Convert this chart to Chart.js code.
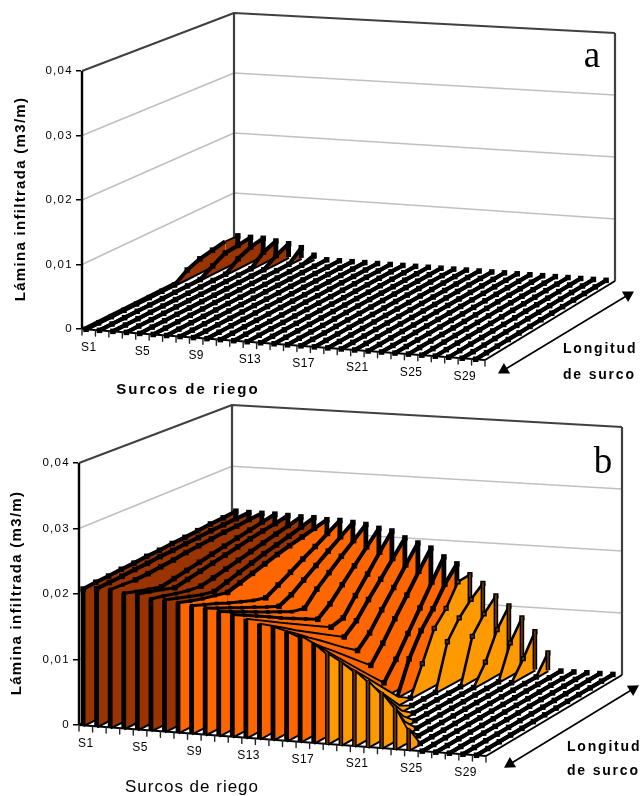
<!DOCTYPE html>
<html lang="es">
<head>
<meta charset="utf-8">
<title>Lámina infiltrada por surco</title>
<script src="https://cdn.jsdelivr.net/npm/chart.js@4/dist/chart.umd.min.js"></script>
<style>
  html, body { margin: 0; padding: 0; background: #fff; }
  .panel { position: relative; width: 644px; height: 398px; }
  canvas { display: block; }
</style>
</head>
<body>
<div class="panel"><canvas id="panelA"></canvas></div>
<div class="panel"><canvas id="panelB"></canvas></div>
<script>
// ========================================
// Datos
// ========================================

const surcos = ['S1','S2','S3','S4','S5','S6','S7','S8','S9','S10','S11','S12','S13','S14','S15',
                'S16','S17','S18','S19','S20','S21','S22','S23','S24','S25','S26','S27','S28','S29','S30'];
const estaciones = ['L1','L2','L3','L4','L5','L6','L7','L8','L9','L10','L11','L12','L13'];
const ticksLamina = [0, 0.01, 0.02, 0.03, 0.04];

const seco = [0,0,0,0,0,0,0,0,0,0,0,0,0];

// Panel a: solo los primeros surcos mojan, al fondo
const laminaA = [
  [0,0,0,0,0,0,0,0,.0014,.0022,.0026,.0030,.0029],
  [0,0,0,0,0,0,0,0,0,.0012,.0023,.0025,.0028],
  [0,0,0,0,0,0,0,0,0,0,.0015,.0024,.0028],
  [0,0,0,0,0,0,0,0,0,0,0,.0017,.0025],
  [0,0,0,0,0,0,0,0,0,0,0,.0013,.0022],
  [0,0,0,0,0,0,0,0,0,0,0,0,.0017],
  [0,0,0,0,0,0,0,0,0,0,0,0,.0006],
  seco, seco, seco, seco, seco, seco, seco, seco, seco, seco, seco, seco,
  seco, seco, seco, seco, seco, seco, seco, seco, seco, seco, seco
];

// Panel b
const laminaB = [
  [.0208,.0210,.0211,.0213,.0214,.0216,.0217,.0219,.0220,.0222,.0224,.0225,.0227],
  [.0210,.0211,.0212,.0214,.0215,.0217,.0218,.0220,.0221,.0223,.0224,.0225,.0226],
  [.0210,.0209,.0208,.0209,.0211,.0213,.0216,.0218,.0220,.0222,.0223,.0225,.0226],
  [.0206,.0200,.0195,.0190,.0194,.0198,.0202,.0206,.0210,.0214,.0218,.0222,.0226],
  [.0206,.0201,.0196,.0190,.0194,.0198,.0202,.0206,.0210,.0214,.0218,.0221,.0225],
  [.0200,.0196,.0191,.0187,.0185,.0189,.0194,.0199,.0204,.0209,.0214,.0219,.0224],
  [.0200,.0194,.0188,.0182,.0178,.0184,.0190,.0196,.0202,.0207,.0212,.0218,.0224],
  [.0197,.0191,.0186,.0182,.0178,.0184,.0190,.0196,.0202,.0207,.0212,.0217,.0222],
  [.0194,.0187,.0180,.0172,.0165,.0158,.0153,.0164,.0175,.0187,.0198,.0210,.0222],
  [.0192,.0183,.0175,.0166,.0158,.0149,.0141,.0150,.0164,.0178,.0192,.0206,.0220],
  [.0188,.0179,.0170,.0161,.0152,.0143,.0134,.0130,.0151,.0168,.0185,.0201,.0218],
  [.0185,.0175,.0165,.0155,.0144,.0134,.0124,.0114,.0129,.0150,.0171,.0192,.0213],
  [.0180,.0169,.0158,.0147,.0136,.0125,.0114,.0103,.0108,.0134,.0159,.0185,.0210],
  [.0174,.0162,.0150,.0137,.0125,.0113,.0101,.0089,.0105,.0129,.0152,.0176,.0200],
  [.0171,.0156,.0142,.0127,.0113,.0098,.0083,.0069,.0087,.0114,.0140,.0167,.0193],
  [.0165,.0148,.0131,.0114,.0098,.0081,.0064,.0047,.0072,.0101,.0129,.0158,.0186],
  [.0161,.0141,.0121,.0101,.0081,.0061,.0041,.0021,.0048,.0079,.0110,.0142,.0173],
  [.0150,.0126,.0102,.0078,.0054,.0030,.0006,0,.0050,.0085,.0110,.0140,.0163],
  [.0137,.0116,.0095,.0075,.0054,.0033,.0012,0,.0044,.0090,.0112,.0145,.0147],
  [.0125,.0102,.0079,.0056,.0033,.0010,0,0,0,.0070,.0098,.0118,.0134],
  [.0114,.0089,.0064,.0039,.0014,0,0,0,0,0,.0070,.0096,.0115],
  [.0100,.0072,.0044,.0017,0,0,0,0,0,0,.0030,.0072,.0100],
  [.0084,.0052,.0020,0,0,0,0,0,0,0,0,.0052,.0082],
  [.0063,.0022,0,0,0,0,0,0,0,0,0,.0028,.0061],
  [.0032,0,0,0,0,0,0,0,0,0,0,0,.0028],
  seco, seco, seco, seco, seco
];

// ========================================
// Colores
// ========================================

const MARRON = '#993300';
const NARANJA = '#FF6600';
const AMBAR = '#FF9900';
const CANTO = '#663300';

function colorPanelA() { return MARRON; }

// En b el color depende del maximo del surco
function colorPanelB(pico) {
  if (pico >= 0.0223) return MARRON;
  if (pico >= 0.0155) return NARANJA;
  return AMBAR;
}

// ========================================
// Perspectiva de cada panel (px del canvas)
// ========================================

const vistaA = {
  A: [82, 329], B: [485, 360], C: [615, 281], D: [234, 253],
  hA: 258, hB: 266, hC: 248, hD: 240,
  izq: 81, padAbajo: 0, tituloPad: 12
};
const vistaB = {
  A: [79, 327], B: [486, 358], C: [622, 277], D: [232, 252],
  hA: 262, hB: 268, hC: 248, hD: 245,
  izq: 78, padAbajo: 8, tituloPad: 8
};

const zMax = ticksLamina[ticksLamina.length - 1];

function bilineal(a, b, c, d, u, t) {
  return (1 - u) * (1 - t) * a + u * (1 - t) * b + u * t * c + (1 - u) * t * d;
}

// (u, t, valor) -> punto en las unidades de las escalas
function proyectar(vista, u, t, valor) {
  const x = bilineal(vista.A[0], vista.B[0], vista.C[0], vista.D[0], u, t);
  const y = bilineal(vista.A[1], vista.B[1], vista.C[1], vista.D[1], u, t);
  const h = bilineal(vista.hA, vista.hB, vista.hC, vista.hD, u, t);
  return { x: x, y: aEscala(vista, y - valor / zMax * h) };
}

function aEscala(vista, py) {
  return (vista.A[1] - py) / vista.hA * zMax;
}

// ========================================
// Construccion de los datasets
// ========================================

function construirDatasets(vista, filas, colorDe) {
  const lista = [];

  function linea(data, color, ancho, extra) {
    lista.push(Object.assign({
      data: data, showLine: true, borderColor: color, borderWidth: ancho,
      pointRadius: 0, fill: false, clip: false, borderJoinStyle: 'round'
    }, extra || {}));
  }

  // Paredes y rejilla
  ticksLamina.slice(1, -1).forEach(v => {
    linea([proyectar(vista, 0, 0, v), proyectar(vista, 0, 1, v), proyectar(vista, 1, 1, v)], '#C0C0C0', 1.7);
  });
  linea([proyectar(vista, 0, 0, zMax), proyectar(vista, 0, 1, zMax), proyectar(vista, 1, 1, zMax)], '#404040', 2);
  linea([proyectar(vista, 0, 1, 0), proyectar(vista, 0, 1, zMax)], '#404040', 2.2);
  linea([proyectar(vista, 1, 1, 0), proyectar(vista, 1, 1, zMax)], '#404040', 2.2);

  // Eje vertical delantero
  linea([proyectar(vista, 0, 0, 0), proyectar(vista, 0, 0, zMax)], '#000', 2.4);

  // Suelo
  linea([proyectar(vista, 0, 0, 0), proyectar(vista, 0, 1, 0)], '#000', 2);
  linea([proyectar(vista, 0, 0, 0), proyectar(vista, 1, 0, 0)], '#000', 2);
  linea([proyectar(vista, 1, 0, 0), proyectar(vista, 1, 1, 0)], '#000', 2);

  // Marcas del eje de surcos
  const marcas = [];
  for (let i = 0; i <= surcos.length; i++) {
    const p = proyectar(vista, i / surcos.length, 0, 0);
    marcas.push(p, { x: p.x, y: p.y - 6 / vista.hA * zMax }, { x: p.x, y: NaN });
  }
  linea(marcas, '#222', 1.4);

  // Un muro por surco, del S1 (mas lejano) al S30 (mas cercano)
  filas.forEach((fila, i) => {
    const u = (i + 0.3) / surcos.length;
    const pico = Math.max.apply(null, fila);
    const color = pico > 0 ? colorDe(pico) : 'transparent';
    const ambar = color === AMBAR;
    const base = fila.map((_, j) => proyectar(vista, u, j / (estaciones.length - 1), 0));
    const cresta = fila.map((v, j) => proyectar(vista, u, j / (estaciones.length - 1), v));

    // Tramo que baja hacia el fondo: linea fina, tramo que sube: gruesa
    const baja = j => fila[j + 1] < fila[j];
    const bajaPunto = j => (j < fila.length - 1 ? baja(j) : false);
    const anchoBaja = fila[0] >= 0.0182 ? 3 : 1.9;

    linea(base, '#000', 4);
    const indiceBase = lista.length - 1;

    linea(cresta, '#000', ambar ? 2.6 : 4, {
      fill: pico > 0 ? indiceBase : false,
      backgroundColor: color,
      segment: { borderWidth: c => (baja(c.p0DataIndex) ? anchoBaja : (ambar && fila[c.p0DataIndex + 1] > 0 ? 2.6 : 4)) },
      pointRadius: fila.map((v, j) => (bajaPunto(j) ? (anchoBaja === 3 ? 2.6 : 0) : (ambar && v > 0 ? 2.7 : 3.9))),
      pointStyle: 'rect',
      pointBackgroundColor: fila.map(v => (ambar && v > 0 ? CANTO : '#000')),
      pointBorderColor: '#000',
      pointBorderWidth: fila.map(v => (ambar && v > 0 ? 1.5 : 0))
    });

    // Cantos verticales
    if (pico > 0) {
      const ult = fila.length - 1;
      const cantos = [];
      [0, ult].forEach(j => {
        if (fila[j] > 0) cantos.push(base[j], cresta[j], { x: base[j].x, y: NaN });
      });
      linea(cantos, '#000', ambar ? 4.6 : 4.8);
      if (ambar) linea(cantos, CANTO, 1.8);
    }
  });

  // El primero del array se pinta al final en Chart.js: se ordena con "order"
  lista.forEach((d, k) => { d.order = lista.length - k; });
  return lista;
}

function flecha(p0, p1) {
  const ang = Math.atan2(p1[0] - p0[0], p0[1] - p1[1]) * 180 / Math.PI;
  return {
    data: [{ x: p0[0], y: p0[1] }, { x: p1[0], y: p1[1] }],
    rotacion: [ang + 180, ang]
  };
}

// ========================================
// Textos
// ========================================

function textoPlugin(textos) {
  return {
    id: 'textos',
    beforeDraw(chart) {
      chart.ctx.letterSpacing = '1.3px';
    },
    afterDraw(chart) {
      const ctx = chart.ctx;
      ctx.save();
      ctx.fillStyle = '#000';
      ctx.textBaseline = 'middle';
      textos.forEach(t => {
        ctx.font = t.font;
        ctx.textAlign = t.align || 'center';
        ctx.letterSpacing = t.esp || '0px';
        ctx.fillText(t.txt, t.x, t.y);
      });
      ctx.restore();
    }
  };
}

function etiquetasSurco(vista, alto) {
  const salida = [];
  surcos.forEach((s, i) => {
    if (i % 4 !== 0) return;
    const u = (i + 0.5) / surcos.length;
    salida.push({
      txt: s,
      x: bilineal(vista.A[0], vista.B[0], vista.C[0], vista.D[0], u, 0),
      y: bilineal(vista.A[1], vista.B[1], vista.C[1], vista.D[1], u, 0) + alto,
      font: '12px "Liberation Sans"',
      esp: '0.4px'
    });
  });
  return salida;
}

// ========================================
// Grafico
// ========================================

function crearPanel(id, vista, filas, colorDe, flechaPts, textos) {
  const canvas = document.getElementById(id);
  canvas.width = 644;
  canvas.height = 398;
  const abajo = canvas.height - vista.padAbajo;
  const f = flecha(flechaPts[0], flechaPts[1]);
  const datasets = construirDatasets(vista, filas, colorDe);
  datasets.push({
    data: f.data.map(p => ({ x: p.x, y: aEscala(vista, p.y) })),
    showLine: true, borderColor: '#000', borderWidth: 1.6, clip: false, fill: false,
    pointStyle: 'triangle', pointRadius: 7, pointBackgroundColor: '#000',
    pointBorderWidth: 0, pointRotation: f.rotacion, order: 0
  });

  return new Chart(canvas, {
    type: 'scatter',
    data: { datasets: datasets },
    options: {
      responsive: false,
      animation: false,
      events: [],
      layout: { autoPadding: false, padding: { left: 0, right: 0, top: 0, bottom: vista.padAbajo } },
      plugins: { legend: { display: false }, tooltip: { enabled: false }, title: { display: false } },
      scales: {
        x: {
          type: 'linear', display: false, min: vista.izq, max: canvas.width
        },
        y: {
          type: 'linear',
          min: aEscala(vista, abajo),
          max: aEscala(vista, 0),
          border: { display: false },
          grid: { display: true, drawOnChartArea: false, drawTicks: true, tickLength: 5, color: '#000', lineWidth: 1.5 },
          afterBuildTicks: s => { s.ticks = ticksLamina.map(v => ({ value: v })); },
          afterFit: s => { s.width = vista.izq; s.paddingTop = 0; s.paddingBottom = 0; },
          ticks: {
            autoSkip: false, color: '#000', padding: 3,
            font: { family: 'Liberation Sans', size: 11.5 },
            callback: v => (v === 0 ? '0' : v.toFixed(2).replace('.', ','))
          },
          title: {
            display: true, text: 'Lámina infiltrada (m3/m)', color: '#000',
            font: { family: 'Liberation Sans', size: 15, weight: 'bold' },
            padding: { top: vista.tituloPad, bottom: 0 }
          }
        }
      }
    },
    plugins: [textoPlugin(textos)]
  });
}

// ========================================
// Inicio
// ========================================

crearPanel('panelA', vistaA, laminaA, colorPanelA, [[504, 370], [628, 295]], [
  ...etiquetasSurco(vistaA, 18),
  { txt: 'Surcos de riego', x: 188, y: 390, font: 'bold 15px "Liberation Sans"', esp: '2px' },
  { txt: 'Longitud', x: 563, y: 349, align: 'left', font: 'bold 14px "Liberation Sans"', esp: '1.8px' },
  { txt: 'de surco', x: 563, y: 375, align: 'left', font: 'bold 14px "Liberation Sans"', esp: '1.8px' },
  { txt: 'a', x: 592, y: 57, font: '37px "Liberation Serif"' }
]);

crearPanel('panelB', vistaB, laminaB, colorPanelB, [[510, 366], [633, 291]], [
  ...etiquetasSurco(vistaB, 18),
  { txt: 'Surcos de riego', x: 192, y: 389, font: '17px "Liberation Sans"', esp: '1px' },
  { txt: 'Longitud', x: 567, y: 349, align: 'left', font: 'bold 14px "Liberation Sans"', esp: '1.8px' },
  { txt: 'de surco', x: 567, y: 373, align: 'left', font: 'bold 14px "Liberation Sans"', esp: '1.8px' },
  { txt: 'b', x: 603, y: 65, font: '37px "Liberation Serif"' }
]);
</script>
</body>
</html>
